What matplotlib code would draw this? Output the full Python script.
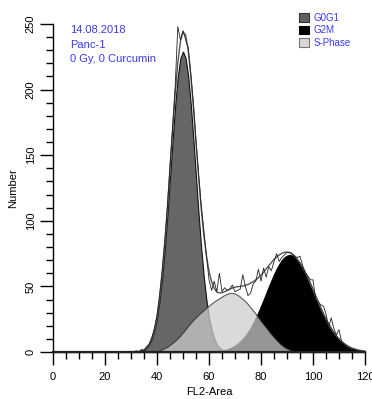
import numpy as np
import matplotlib
matplotlib.use("Agg")
import matplotlib.pyplot as plt
from matplotlib.patches import Patch

plt.rcParams['font.family'] = ['Liberation Sans', 'DejaVu Sans']

# channel axis (FL2-Area), one value per channel
channels = np.arange(0, 121)

# G0G1 model curve, starting at channel 31
g0g1_start = 31
g0g1_vals = [0.1, 0.2, 0.4, 0.9, 1.7, 3.3, 5.8, 10.1, 16.6, 26.1,
             39.5, 57.1, 79.1, 104.8, 133.1, 161.8, 188.4, 210.0, 224.1, 229.0,
             224.1, 210.0, 188.4, 161.8, 133.1, 104.8, 79.1, 57.1, 39.5, 26.1,
             16.6, 10.1, 5.8, 3.3, 1.7, 0.9, 0.4, 0.2, 0.1]

# S-phase model curve, starting at channel 40
s_start = 40
s_vals = [0.5, 1.2, 2.0, 3.0, 4.0, 5.5, 7.0, 8.7, 10.5, 12.7,
          15.0, 17.5, 20.0, 22.3, 24.5, 26.5, 28.5, 30.3, 32.0, 33.8,
          35.5, 37.0, 38.5, 39.8, 41.0, 42.3, 43.5, 44.4, 45.0, 45.0,
          44.5, 43.5, 42.0, 40.3, 38.5, 36.3, 34.0, 31.5, 29.0, 26.2,
          23.5, 21.0, 18.5, 16.0, 13.5, 11.2, 9.0, 7.0, 5.2, 3.8,
          2.6, 1.7, 1.1, 0.6, 0.3, 0.1, 0.0]

# G2M model curve, starting at channel 64
g2m_start = 64
g2m_vals = [0.8, 1.1, 1.6, 2.1, 2.8, 3.7, 4.9, 6.3, 8.0, 10.0,
            12.4, 15.2, 18.5, 22.1, 26.1, 30.4, 35.1, 39.9, 44.9, 49.9,
            54.7, 59.3, 63.4, 67.0, 70.0, 72.2, 73.5, 74.0, 73.6, 72.4,
            70.4, 67.7, 64.4, 60.6, 56.4, 51.9, 47.2, 42.5, 37.9, 33.3,
            29.0, 25.0, 21.3, 17.9, 14.9, 12.3, 10.0, 8.1, 6.4, 5.1,
            3.9, 3.0, 2.3, 1.7, 1.3, 1.0, 0.7]

# measured histogram, starting at channel 30
data_start = 30
data_vals = [0, 0, 1, 0, 2, 1, 4, 6, 11, 18,
             28, 44, 63, 86, 112, 143, 172, 203, 248, 238,
             245, 238, 232, 212, 190, 161, 136, 112, 93, 74,
             55, 47, 54, 46, 60, 46, 49, 47, 48, 51,
             46, 47, 48, 59, 50, 43, 45, 52, 54, 63,
             54, 64, 57, 65, 62, 69, 75, 69, 72, 74,
             76, 76, 75, 73, 72, 73, 66, 60, 58, 55,
             55, 40, 38, 36, 35, 29, 19, 26, 18, 13,
             17, 8, 6, 4, 3, 2, 2, 1, 1, 0, 0]

annot_lines = ["14.08.2018", "Panc-1", "0 Gy, 0 Curcumin"]
legend_labels = ["G0G1", "G2M", "S-Phase"]

BLUE = "#3a3af8"


def place(start, vals):
    arr = np.zeros(len(channels))
    arr[start:start + len(vals)] = vals
    return arr


g0g1 = place(g0g1_start, g0g1_vals)
sphase = place(s_start, s_vals)
g2m = place(g2m_start, g2m_vals)
hist = place(data_start, data_vals)
model = g0g1 + sphase + g2m

fig = plt.figure(figsize=(3.72, 3.99), dpi=100)
ax = fig.add_axes([0.1425, 0.1178, 0.8387, 0.822])

# component fills
ax.fill_between(channels, 0, g0g1, facecolor="#666666", edgecolor="#111111", linewidth=0.8, zorder=2)
ax.fill_between(channels, 0, g2m, facecolor="black", edgecolor="black", linewidth=0.8, zorder=2)
ax.fill_between(channels, 0, sphase, facecolor="#cdcdcd", edgecolor="#222222", linewidth=0.8,
                alpha=0.73, zorder=3)

# model sum and raw histogram
ax.plot(channels, model, color="#555555", linewidth=1.0, zorder=4)
ax.plot(channels, hist, color="#222222", linewidth=0.6, zorder=5, clip_on=False)
ax.plot([0, 120], [0, 0], color="#222222", linewidth=1.6, zorder=5, clip_on=False)

ax.set_xlim(0, 120)
ax.set_ylim(0, 250)
ax.set_xticks(np.arange(0, 121, 20))
ax.set_xticks(np.arange(0, 121, 5), minor=True)
ax.set_yticks(np.arange(0, 251, 50))
ax.set_yticks(np.arange(0, 251, 10), minor=True)

for side in ["top", "right"]:
    ax.spines[side].set_visible(False)
for side in ["left", "bottom"]:
    ax.spines[side].set_linewidth(1.0)

ax.tick_params(which="major", length=9.5, width=1.0, labelsize=8, pad=3)
ax.tick_params(which="minor", length=5, width=1.0)
ax.tick_params(axis="x", which="major", pad=5)
for lbl in ax.get_yticklabels():
    lbl.set_rotation(90)
    lbl.set_va("center")

ax.set_xlabel("FL2-Area", fontsize=8)
ax.xaxis.set_label_coords(0.5, -0.108)
ax.set_ylabel("Number", fontsize=8)
ax.yaxis.set_label_coords(-0.112, 0.5)

# sample annotation
for i, line in enumerate(annot_lines):
    fig.text(70 / 372, 1 - (30 + i * 14.5) / 399, line, color=BLUE, fontsize=8,
             ha="left", va="center")

# legend
handles = [Patch(facecolor="#606060", edgecolor="#333333", linewidth=0.8),
           Patch(facecolor="black", edgecolor="black", linewidth=0.8),
           Patch(facecolor="#d8d8d8", edgecolor="#777777", linewidth=0.8)]
leg = fig.legend(handles, legend_labels, loc="upper left", bbox_to_anchor=(292 / 372, 1 - 6 / 399),
                 frameon=False, fontsize=7, labelcolor=BLUE, handlelength=1.0, handleheight=1.0,
                 handletextpad=0.5, labelspacing=0.25, borderpad=0.2)

fig.savefig("out.png", dpi=100)
